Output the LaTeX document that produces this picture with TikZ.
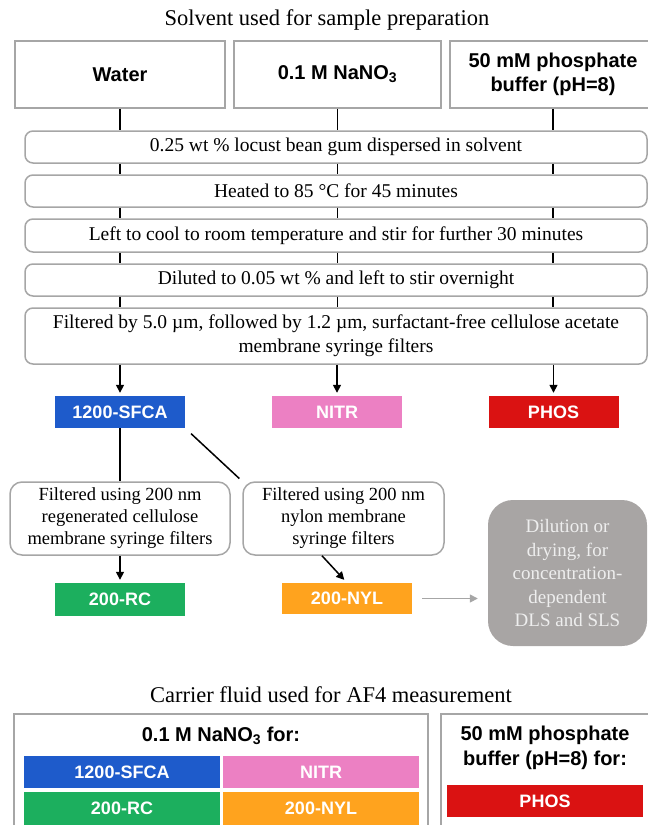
\documentclass[tikz,border=0pt]{standalone}
\usepackage{fontspec}
\setmainfont{Liberation Serif}
\setsansfont{Liberation Sans}
\usetikzlibrary{arrows.meta}

\definecolor{boxgray}{HTML}{A6A6A6}
\definecolor{sfcablue}{HTML}{1E5BCB}
\definecolor{nitrpink}{HTML}{EC80C3}
\definecolor{phosred}{HTML}{DA1212}
\definecolor{rcgreen}{HTML}{1CAF5E}
\definecolor{nylorange}{HTML}{FFA31E}
\definecolor{dlsgray}{HTML}{A8A5A4}
\definecolor{dlstext}{HTML}{EEEEEE}

\tikzset{
  solvbox/.style={draw=boxgray, line width=1.5pt, fill=white, inner sep=0pt, minimum height=67pt, align=center, font=\sffamily\bfseries\fontsize{20}{24}\selectfont},
  stepbox/.style={draw=boxgray, line width=1.5pt, rounded corners=8pt, fill=white, inner sep=0pt, minimum width=622pt, align=center, font=\fontsize{19.5}{24}\selectfont},
  filtbox/.style={stepbox, rounded corners=12pt, minimum height=73pt, font=\fontsize{18.5}{22}\selectfont},
  tagbox/.style={inner sep=0pt, minimum width=130pt, minimum height=32pt, text=white, font=\sffamily\bfseries\fontsize{18}{21}\selectfont},
  cellbox/.style={tagbox, minimum width=196pt},
  link/.style={line width=1.5pt},
  arr/.style={line width=1.5pt, -{Triangle[length=8pt,width=8pt]}},
  title/.style={font=\fontsize{22.5}{26}\selectfont},
}

\begin{document}
\begin{tikzpicture}[x=1pt, y=-1pt]
\clip (0,0) rectangle (648,825);

%% solvents
\node[title] (soltitle) at (327,20) {Solvent used for sample preparation};
\node[solvbox, minimum width=210pt] (water) at (120,74.5) {Water};
\node[solvbox, minimum width=207pt] (nitrate) at (337.5,74.5) {0.1 M NaNO\textsubscript{3}};
\node[solvbox, minimum width=206pt] (phosphate) at (553,74.5) {50 mM phosphate\\buffer (pH=8)};

%% preparation steps
\node[stepbox, minimum height=32pt] (s1) at (336,147) {0.25 wt \% locust bean gum dispersed in solvent};
\node[stepbox, minimum height=32pt] (s2) at (336,191) {Heated to 85 °C for 45 minutes};
\node[stepbox, minimum height=33pt] (s3) at (336,235.5) {Left to cool to room temperature and stir for further 30 minutes};
\node[stepbox, minimum height=32pt] (s4) at (336,280) {Diluted to 0.05 wt \% and left to stir overnight};
\node[stepbox, minimum height=56pt] (s5) at (336,336) {Filtered by 5.0 µm, followed by 1.2 µm, surfactant-free cellulose acetate\\membrane syringe filters};

%% samples
\node[tagbox, fill=sfcablue] (sfca) at (120,412) {1200-SFCA};
\node[tagbox, fill=nitrpink] (nitr) at (337,412) {NITR};
\node[tagbox, fill=phosred] (phos) at (553.5,412) {PHOS};

%% second filtration
\node[filtbox, minimum width=220pt] (rcfilt) at (120,518.5) {Filtered using 200 nm\\regenerated cellulose\\membrane syringe filters};
\node[filtbox, minimum width=201pt] (nylfilt) at (343.5,518.5) {Filtered using 200 nm\\nylon membrane\\syringe filters};
\node[tagbox, fill=rcgreen, minimum height=33pt] (rc) at (120,599.5) {200-RC};
\node[tagbox, fill=nylorange, minimum height=31pt] (nyl) at (347,598.5) {200-NYL};
\node[fill=dlsgray, rounded corners=25pt, inner sep=0pt, minimum width=159pt, minimum height=146pt, align=center, text=dlstext, font=\fontsize{19}{23.5}\selectfont] (dls) at (567.5,573) {Dilution or\\drying, for\\concentration-\\dependent\\DLS and SLS};

%% carrier fluids
\node[title] (cartitle) at (331,695) {Carrier fluid used for AF4 measurement};
\node[draw=boxgray, line width=1.5pt, inner sep=0pt, minimum width=414pt, minimum height=130pt] (nitframe) at (221,779) {};
\node[draw=boxgray, line width=1.5pt, inner sep=0pt, minimum width=220pt, minimum height=130pt] (phosframe) at (551,779) {};
\node[font=\sffamily\bfseries\fontsize{20}{24}\selectfont] (nitlabel) at (221,736) {0.1 M NaNO\textsubscript{3} for:};
\node[font=\sffamily\bfseries\fontsize{20}{25}\selectfont, align=center] (phoslabel) at (545,747.5) {50 mM phosphate\\buffer (pH=8) for:};
\node[cellbox, fill=sfcablue] (csfca) at (122,772) {1200-SFCA};
\node[cellbox, fill=nitrpink] (cnitr) at (321,772) {NITR};
\node[cellbox, fill=rcgreen, minimum height=33pt] (crc) at (122,808.5) {200-RC};
\node[cellbox, fill=nylorange, minimum height=33pt] (cnyl) at (321,808.5) {200-NYL};
\node[cellbox, fill=phosred] (cphos) at (545,801) {PHOS};

%% links between steps
\draw[link] (water.south) -- (water.south |- s1.north) (nitrate.south) -- (nitrate.south |- s1.north) (phosphate.south) -- (phosphate.south |- s1.north);
\draw[link] (water.south |- s1.south) -- (water.south |- s2.north) (nitrate.south |- s1.south) -- (nitrate.south |- s2.north) (phosphate.south |- s1.south) -- (phosphate.south |- s2.north);
\draw[link] (water.south |- s2.south) -- (water.south |- s3.north) (nitrate.south |- s2.south) -- (nitrate.south |- s3.north) (phosphate.south |- s2.south) -- (phosphate.south |- s3.north);
\draw[link] (water.south |- s3.south) -- (water.south |- s4.north) (nitrate.south |- s3.south) -- (nitrate.south |- s4.north) (phosphate.south |- s3.south) -- (phosphate.south |- s4.north);
\draw[link] (water.south |- s4.south) -- (water.south |- s5.north) (nitrate.south |- s4.south) -- (nitrate.south |- s5.north) (phosphate.south |- s4.south) -- (phosphate.south |- s5.north);

%% arrows to samples
\draw[arr, shorten >=3pt] (sfca.north |- s5.south) -- (sfca.north);
\draw[arr, shorten >=3pt] (nitr.north |- s5.south) -- (nitr.north);
\draw[arr, shorten >=3pt] (phos.north |- s5.south) -- (phos.north);

%% second filtration
\draw[link] (sfca.south) -- (rcfilt.north);
\draw[link, shorten <=8pt, shorten >=4pt] (sfca.south east) -- (nylfilt.north west);
\draw[arr, shorten >=3pt] (rcfilt.south) -- (rc.north);
\draw[arr, shorten >=4pt] (nylfilt.240) -- (nyl.north);
\draw[line width=1.5pt, boxgray, -{Triangle[length=8pt,width=8pt]}, shorten <=10pt, shorten >=10pt] (nyl.east) -- (nyl.east -| dls.west);
\end{tikzpicture}
\end{document}
